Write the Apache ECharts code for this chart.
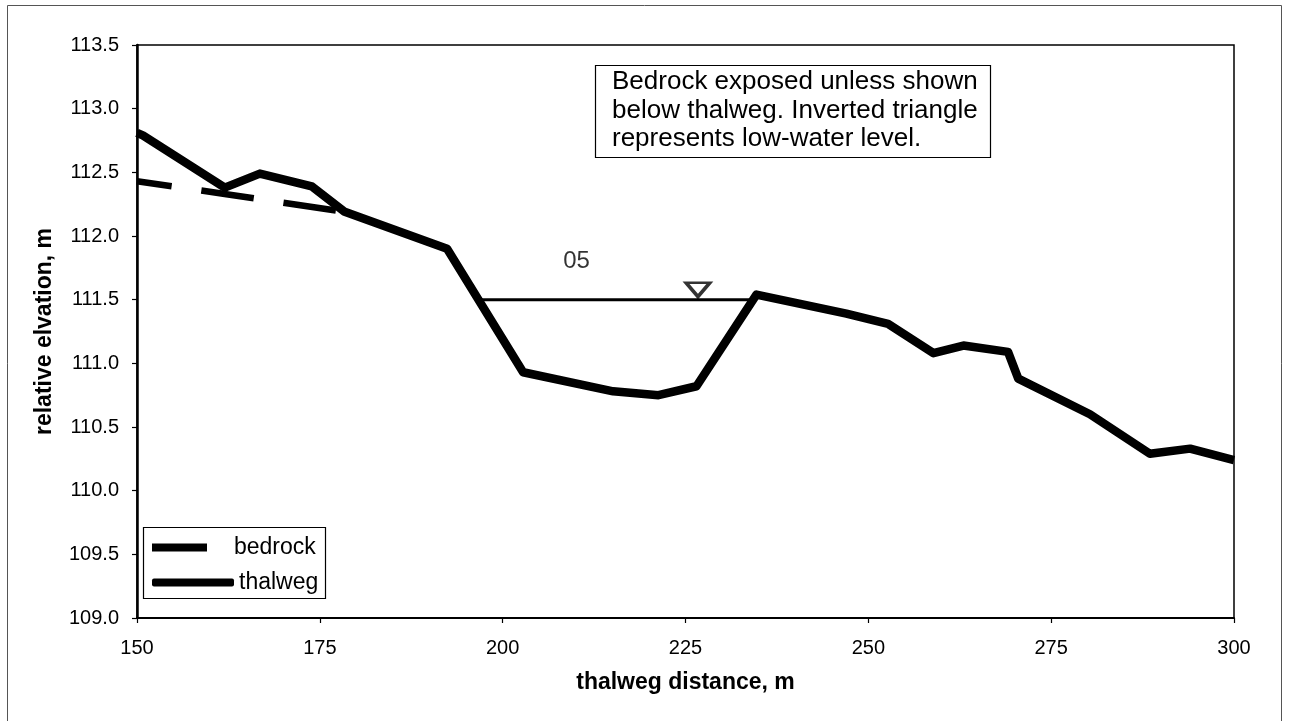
<!DOCTYPE html>
<html>
<head>
<meta charset="utf-8">
<title>Thalweg profile 05</title>
<script src="https://cdn.jsdelivr.net/npm/echarts@6/dist/echarts.min.js"></script>
<style>
  html, body { margin: 0; padding: 0; background: #fff; }
  #chart { width: 1289px; height: 721px; }
</style>
</head>
<body>
<div id="chart"></div>
<script>
// Thalweg profile, reach 05 (distance along thalweg vs relative elevation)
const thalwegDist = [150, 150.8, 162.0, 166.8, 173.9, 178.4, 192.4, 202.8, 215.1, 221.3, 226.5,
                     234.7, 247.0, 252.7, 258.9, 263.0, 269.1, 270.5, 280.3, 288.5, 294.0, 300];
const thalwegElev = [112.81, 112.79, 112.38, 112.49, 112.39, 112.19, 111.90, 110.93, 110.78, 110.75, 110.82,
                     111.54, 111.39, 111.31, 111.08, 111.14, 111.09, 110.88, 110.60, 110.29, 110.33, 110.24];

// Buried bedrock surface (dashed) where it lies below the thalweg
const bedrockDist = [150, 162, 178.4];
const bedrockElev = [112.43, 112.33, 112.19];

// Low-water surface across the pool
const waterDist = [197.1, 234.7];
const waterLevel = 111.5;
const waterMarkerDist = 226.7;

// Reach label
const reachLabel = '05';
const reachLabelPos = [210.1, 111.80];

const xTicks = { min: 150, max: 300, step: 25 };
const yTicks = { min: 109.0, max: 113.5, step: 0.5 };

const noteText = 'Bedrock exposed unless shown\nbelow thalweg. Inverted triangle\nrepresents low-water level.';

const FONT = '"Liberation Sans", Arial, sans-serif';

const zip = (xs, ys) => xs.map((x, i) => [x, ys[i]]);

const chart = echarts.init(document.getElementById('chart'), null, { renderer: 'canvas' });

chart.setOption({
  backgroundColor: '#fff',
  animation: false,
  textStyle: { fontFamily: FONT, color: '#000' },
  grid: {
    left: 137, right: 55, top: 45, bottom: 103,
    show: true, borderColor: '#000', borderWidth: 1.5,
    containLabel: false, outerBoundsMode: 'none'
  },
  title: {
    text: noteText,
    left: 595, top: 65,
    padding: [3, 13, 4, 17],
    borderColor: '#000', borderWidth: 1.2,
    backgroundColor: '#fff',
    textStyle: { fontFamily: FONT, fontSize: 26, fontWeight: 'normal', color: '#000', lineHeight: 28.5 }
  },
  legend: [
    {
      data: [{ name: 'bedrock', icon: 'rect' }],
      left: 147, top: 531,
      itemWidth: 55, itemHeight: 8,
      textStyle: { fontFamily: FONT, fontSize: 23, color: '#000', lineHeight: 23, padding: [0, 0, 0, 22] },
      selectedMode: false
    },
    {
      data: [{ name: 'thalweg', icon: 'roundRect' }],
      left: 147, top: 566,
      itemWidth: 82, itemHeight: 8,
      textStyle: { fontFamily: FONT, fontSize: 23, color: '#000', lineHeight: 23 },
      selectedMode: false
    }
  ],
  xAxis: {
    type: 'value',
    min: xTicks.min, max: xTicks.max, interval: xTicks.step,
    name: 'thalweg distance, m',
    nameLocation: 'middle', nameGap: 53,
    nameTextStyle: { fontFamily: FONT, fontSize: 23, fontWeight: 'bold', color: '#000' },
    axisLine: { show: true, onZero: false, lineStyle: { color: '#000', width: 2 } },
    axisTick: { show: true, inside: false, length: 5, lineStyle: { color: '#000', width: 1.2 } },
    axisLabel: { fontFamily: FONT, fontSize: 20, color: '#000', margin: 20, showMinLabel: true, showMaxLabel: true },
    splitLine: { show: false }
  },
  yAxis: {
    type: 'value',
    min: yTicks.min, max: yTicks.max, interval: yTicks.step,
    name: 'relative elvation, m',
    nameLocation: 'middle', nameGap: 81, nameRotate: 90,
    nameTextStyle: { fontFamily: FONT, fontSize: 23, fontWeight: 'bold', color: '#000' },
    axisLine: { show: true, onZero: false, lineStyle: { color: '#000', width: 2.5 } },
    axisTick: { show: true, inside: false, length: 5, lineStyle: { color: '#000', width: 1.2 } },
    axisLabel: {
      fontFamily: FONT, fontSize: 20, color: '#000', margin: 18,
      formatter: v => v.toFixed(1), showMinLabel: true, showMaxLabel: true
    },
    splitLine: { show: false }
  },
  series: [
    {
      name: 'bedrock',
      type: 'line',
      data: zip(bedrockDist, bedrockElev),
      symbol: 'none',
      color: '#000',
      lineStyle: { color: '#000', width: 6.5, type: [53, 30], dashOffset: 18, cap: 'butt' },
      z: 2
    },
    {
      name: 'thalweg',
      type: 'line',
      data: zip(thalwegDist, thalwegElev),
      symbol: 'none',
      color: '#000',
      lineStyle: { color: '#000', width: 8.5, join: 'round' },
      z: 3
    },
    {
      name: 'low water',
      type: 'line',
      data: waterDist.map(x => [x, waterLevel]),
      symbol: 'none',
      color: '#000',
      lineStyle: { color: '#000', width: 3 },
      z: 2
    },
    {
      name: 'low-water marker',
      type: 'scatter',
      data: [[waterMarkerDist, waterLevel]],
      symbol: 'triangle',
      symbolRotate: 180,
      symbolSize: [24, 14],
      symbolOffset: [0, -10],
      itemStyle: { color: '#fff', borderColor: '#000', borderWidth: 3.2 },
      z: 4
    },
    {
      name: 'reach',
      type: 'scatter',
      data: [reachLabelPos],
      symbolSize: 0,
      label: {
        show: true, position: 'inside',
        formatter: reachLabel,
        fontFamily: FONT, fontSize: 24, color: '#000'
      },
      z: 4
    }
  ],
  graphic: [
    {
      type: 'rect',
      shape: { x: 7.5, y: 5.5, width: 1274, height: 730 },
      style: { fill: null, stroke: '#555', lineWidth: 1 },
      silent: true, z: -1
    },
    {
      type: 'rect',
      shape: { x: 143.5, y: 527.5, width: 182, height: 71 },
      style: { fill: '#fff', stroke: '#000', lineWidth: 1.2 },
      silent: true, z: 0
    }
  ]
});
</script>
</body>
</html>
